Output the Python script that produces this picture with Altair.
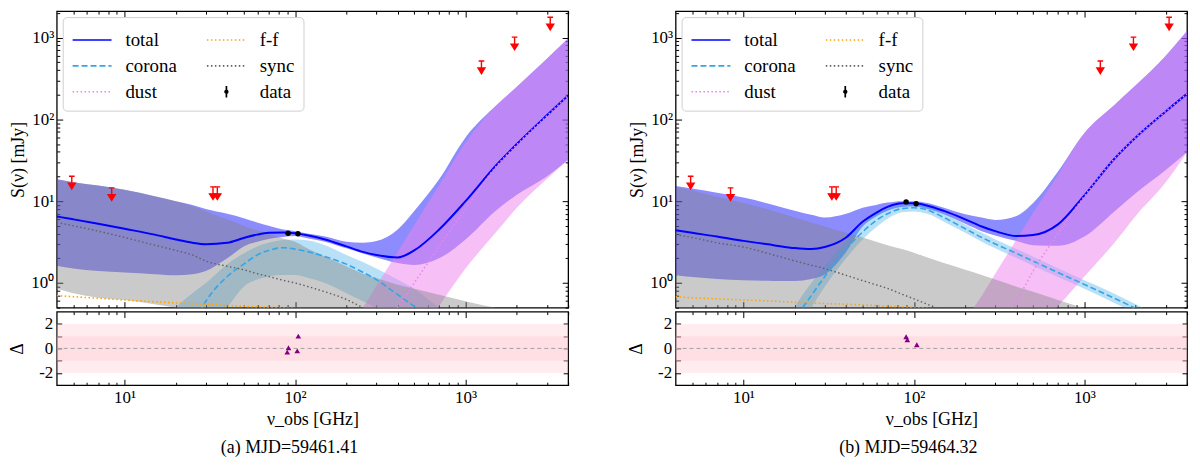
import altair as alt
import pandas as pd

SERIF = "Liberation Serif"
BLUE = "#0000ff"
CORONA = "#33a6e8"
DUST = "#ee82ee"
FF = "#ffa500"
SYNC = "#606060"

# frequency grid [GHz]
NU = [4, 5, 7, 10, 15, 20, 25, 30, 40, 50, 60, 70, 85, 100, 120, 150, 200, 250, 300, 400, 500, 700, 1000, 1500, 2000, 3000, 4000]

# %% panel (a) MJD=59461.41  [mJy]
A_TOTAL = [6.5, 6.0, 5.3, 4.6, 3.9, 3.4, 3.1, 2.98, 3.1, 3.55, 3.9, 4.1, 4.15, 4.05, 3.8, 3.4, 2.8, 2.4, 2.2, 2.05, 2.5, 4.5, 10, 27, 50, 112, 195]
A_TOT_HI = [18.5, 17.0, 15.5, 13.8, 11.5, 10.0, 9.0, 8.0, 7.0, 6.2, 5.5, 5.0, 4.5, 4.3, 4.0, 3.7, 3.2, 3.1, 3.25, 4.5, 7.6, 18.5, 60, 145, 250, 550, 970]
A_TOT_LO = [1.62, 1.5, 1.4, 1.34, 1.28, 1.24, 1.28, 1.4, 2.0, 2.8, 3.2, 3.45, 3.65, 3.75, 3.5, 3.2, 2.65, 2.3, 2.05, 1.75, 1.66, 2.0, 3.4, 7.6, 12, 20, 32]
A_COR = [None] * 5 + [0.15, 0.3, 0.6, 1.2, 1.7, 2.2, 2.5, 2.7, 2.6, 2.4, 2.1, 1.7, 1.35, 1.1, 0.72, 0.52, 0.3] + [None] * 5
A_COR_HI = [None] * 4 + [0.25, 0.5, 0.75, 1.0, 1.7, 2.3, 2.8, 3.1, 3.35, 3.4, 3.3, 2.9, 2.2, 1.8, 1.5, 1.1, 0.85, 0.5, 0.3] + [None] * 4
A_COR_LO = [None] * 4 + [0.025, 0.06, 0.15, 0.25, 0.5, 0.9, 1.1, 1.2, 1.25, 1.25, 1.15, 1.0, 0.75, 0.6, 0.5, 0.35, 0.25, 0.15, 0.08] + [None] * 4
A_DUST = [None] * 17 + [0.11, 0.2, 0.5, 1.0, 2.8, 8.0, 26, 49, 110, 195]
A_DUST_HI = [None] * 16 + [0.25, 0.5, 0.92, 2.4, 5.1, 15.6, 52, 145, 250, 550, 970]
A_DUST_LO = [None] * 16 + [0.01, 0.02, 0.035, 0.08, 0.17, 0.52, 1.5, 4.1, 8.3, 18.6, 32]
A_SYNC = [5.5, 5.0, 4.3, 3.6, 2.9, 2.5, 2.2, 1.85, 1.6, 1.45, 1.3, 1.2, 1.08, 1.0, 0.9, 0.78, 0.63, 0.5, 0.42] + [None] * 8
A_SYNC_HI = [18.5, 17.0, 15.5, 13.8, 11.5, 10.0, 8.7, 7.5, 6.0, 5.0, 4.4, 4.0, 3.5, 3.2, 2.6, 2.1, 1.6, 1.3, 1.15, 0.95, 0.85, 0.72, 0.6, 0.5, 0.45, 0.4, 0.36]
A_SYNC_LO = [0.85, 0.75, 0.66, 0.62, 0.55, 0.5, 0.47, 0.45, 0.42, 0.4, 0.38, 0.37, 0.35, 0.34, 0.32, 0.3, 0.28, 0.26, 0.25, 0.23, 0.22, 0.2, 0.18, 0.16, 0.15, 0.14, 0.13]
A_FF = [0.7, 0.68, 0.65, 0.62, 0.59, 0.57, 0.56, 0.55, 0.53, 0.52, 0.51, 0.505, 0.5, 0.49, 0.48] + [None] * 12
A_DATA_NU = [91, 104]
A_DATA_S = [4.05, 4.0]
A_DATA_ERR = [0.12, 0.12]
A_RES_NU = [90, 91.5, 103, 104.5]
A_RES = [-0.3, 0.05, -0.2, 1.0]

# %% panel (b) MJD=59464.32
B_TOTAL = [4.4, 4.1, 3.7, 3.27, 2.9, 2.67, 2.6, 2.75, 3.6, 5.6, 7.2, 8.5, 9.4, 9.4, 8.8, 7.6, 6.0, 4.9, 4.3, 3.75, 3.85, 5.2, 11.8, 33, 60, 125, 205]
B_TOT_HI = [15.3, 14.3, 12.7, 11.1, 9.0, 7.65, 6.8, 6.3, 7.0, 8.3, 9.0, 9.6, 10.0, 10.0, 9.5, 8.3, 6.9, 6.3, 5.9, 6.6, 9.5, 23, 68, 150, 260, 600, 1200]
B_TOT_LO = [1.24, 1.18, 1.12, 1.08, 1.06, 1.06, 1.12, 1.27, 2.4, 4.9, 6.5, 7.65, 8.5, 8.6, 8.0, 6.9, 5.3, 4.3, 3.8, 3.25, 2.9, 2.85, 3.7, 7.5, 12.5, 24, 40]
B_COR = [None] * 4 + [0.08, 0.35, 0.7, 1.2, 2.6, 4.2, 5.8, 7.0, 8.1, 8.3, 7.8, 6.3, 4.6, 3.6, 3.0, 2.3, 1.85, 1.34, 0.96, 0.65, 0.49, 0.33, 0.25]
B_COR_HI = [None] * 4 + [0.12, 0.5, 1.0, 1.6, 3.3, 5.2, 7.0, 8.1, 9.0, 9.2, 8.7, 7.1, 5.2, 4.1, 3.4, 2.6, 2.1, 1.51, 1.08, 0.74, 0.55, 0.37, 0.28]
B_COR_LO = [None] * 4 + [0.05, 0.24, 0.5, 0.9, 2.0, 3.4, 4.8, 6.1, 7.3, 7.5, 7.0, 5.6, 4.1, 3.2, 2.65, 2.02, 1.63, 1.18, 0.85, 0.57, 0.43, 0.29, 0.22]
B_DUST = [None] * 17 + [0.1, 0.25, 0.6, 1.4, 4.0, 11.5, 33, 60, 125, 205]
B_DUST_HI = [None] * 15 + [0.13, 0.35, 0.7, 1.3, 3.4, 7.2, 21, 68, 150, 260, 600, 1200]
B_DUST_LO = [None] * 15 + [0.01, 0.02, 0.04, 0.07, 0.13, 0.25, 0.52, 1.2, 3.1, 6.6, 17, 40]
B_SYNC = [3.9, 3.6, 3.1, 2.75, 2.2, 1.86, 1.65, 1.5, 1.24, 1.07, 0.95, 0.86, 0.73, 0.64, 0.55, 0.46, 0.38] + [None] * 10
B_SYNC_HI = [15.0, 13.5, 11.3, 9.5, 7.6, 6.3, 5.5, 4.9, 4.1, 3.6, 3.2, 2.9, 2.6, 2.35, 2.05, 1.75, 1.45, 1.25, 1.1, 0.9, 0.78, 0.62, 0.49, 0.4, 0.35, 0.28, 0.24]
B_SYNC_LO = [0.45, 0.42, 0.4, 0.38, 0.36, 0.34, 0.33, 0.32, 0.3, 0.29, 0.28, 0.27, 0.26, 0.25, 0.24, 0.23, 0.21, 0.2, 0.19, 0.17, 0.16, 0.15, 0.13, 0.12, 0.11, 0.1, 0.09]
B_FF = [0.68, 0.66, 0.64, 0.62, 0.6, 0.58, 0.57, 0.56, 0.55, 0.54, 0.53, 0.52, 0.51, 0.5, 0.49, 0.48] + [None] * 11
B_DATA_NU = [90, 103]
B_DATA_S = [9.8, 9.3]
B_DATA_ERR = [0.2, 0.2]
B_RES_NU = [90, 91.5, 104]
B_RES = [0.95, 0.7, 0.3]

# upper limits (same in both epochs)
UL_NU = [4.9, 8.4, 33, 35, 1240, 1940, 3140]
UL_S = [20, 14.4, 14.8, 14.8, 512, 1000, 1750]

SIGMA = [2, 1]

# legend fills column by column
LEG_NAMES = ["total", "corona", "dust", "f-f", "sync", "data"]
LEG_COLORS = [BLUE, CORONA, DUST, FF, SYNC, "black"]
LEG_DASH = [[1, 0], [6, 3], [1.5, 2.5], [1.5, 2.5], [1.5, 2.5], [1, 0]]
LINE = "M-1,0H2"
DOT = "M0.5,-0.45V0.45M0.4,0A0.1,0.1 0 1,0 0.6,0A0.1,0.1 0 1,0 0.4,0"
LEG_SHAPES = [LINE, LINE, LINE, LINE, LINE, DOT]
ARROW = "M-0.45,-1H0.45M0,-1V0.2M-0.55,0.1L0,1L0.55,0.1Z"

W, H, HR = 514, 298, 74
XS = alt.Scale(type="log", domain=[4, 4000], nice=False)
YS = alt.Scale(type="log", domain=[0.5, 2100], nice=False)
RS = alt.Scale(domain=[-3, 3], nice=False)

MAJ_X = [10, 100, 1000]
MIN_X = [5, 6, 7, 8, 9, 20, 30, 40, 50, 60, 70, 80, 90, 200, 300, 400, 500, 600, 700, 800, 900, 2000, 3000, 4000]
MAJ_Y = [1, 10, 100, 1000]
MIN_Y = [0.5, 0.6, 0.7, 0.8, 0.9, 2, 3, 4, 5, 6, 7, 8, 9, 20, 30, 40, 50, 60, 70, 80, 90,
         200, 300, 400, 500, 600, 700, 800, 900, 2000]
RES_TICKS = [-2, -1, 0, 1, 2]
SUP = "datum.value == 1 ? '10⁰' : datum.value == 10 ? '10¹' : datum.value == 100 ? '10²' : '10³'"
TXT = dict(labelFont=SERIF, titleFont=SERIF, labelFontSize=17, titleFontSize=18,
           labelColor="black", titleColor="black", titleFontWeight="normal")


def ticks(orient, offset, values, major=None):
    size = 5
    if major is not None:
        size = {"condition": {"test": f"indexof({major}, datum.value) >= 0", "value": 6}, "value": 3}
    return alt.Axis(orient=orient, offset=offset, values=values, labels=False, domain=False,
                    grid=False, title=None, tickColor="black", tickWidth=1, tickSize=size)


def band(df, lo, hi, color, opacity, xax=None, yax=None):
    return alt.Chart(df).mark_area(color=color, opacity=opacity, interpolate="monotone", clip=True).encode(
        x=alt.X("nu:Q", scale=XS, axis=xax),
        y=alt.Y(f"{lo}:Q", scale=YS, axis=yax),
        y2=f"{hi}:Q")


def line(df, col, color, width, dash=None):
    kw = dict(color=color, strokeWidth=width, interpolate="monotone", clip=True)
    if dash:
        kw["strokeDash"] = dash
    return alt.Chart(df).mark_line(**kw).encode(
        x=alt.X("nu:Q", scale=XS, axis=None), y=alt.Y(f"{col}:Q", scale=YS, axis=None))


def panel(c, data_nu, data_s, data_err, res_nu, res, caption):
    df = pd.DataFrame({"nu": NU, **c})
    pts = pd.DataFrame({"nu": data_nu, "s": data_s,
                        "lo": [s - e for s, e in zip(data_s, data_err)],
                        "hi": [s + e for s, e in zip(data_s, data_err)]})
    ul = pd.DataFrame({"nu": UL_NU, "s": UL_S})
    leg = pd.DataFrame({"series": LEG_NAMES})

    x_bot = ticks("top", -H, MAJ_X + MIN_X, MAJ_X)
    x_top = ticks("bottom", -H, MAJ_X + MIN_X, MAJ_X)
    y_left = ticks("right", -W, MAJ_Y + MIN_Y, MAJ_Y)
    y_right = ticks("left", -W, MAJ_Y + MIN_Y, MAJ_Y)
    y_lab = alt.Axis(orient="left", values=MAJ_Y, ticks=False, domain=False, grid=False,
                     labelExpr=SUP, labelPadding=3, labelFlush=False, title="S(ν) [mJy]",
                     titlePadding=3, **TXT)

    top = alt.layer(
        band(df, "tot_lo", "tot_hi", BLUE, 0.45, x_bot, y_lab),
        band(df, "cor_lo", "cor_hi", CORONA, 0.35, x_top, y_left),
        band(df, "dust_lo", "dust_hi", DUST, 0.5, None, y_right),
        band(df, "sync_lo", "sync_hi", "#808080", 0.42),
        line(df, "cor", CORONA, 1.6, [6, 3]),
        line(df, "sync", SYNC, 1.4, [1.5, 2.5]),
        line(df, "ff", FF, 1.6, [1.5, 2.5]),
        line(df, "tot", BLUE, 2),
        line(df, "dust", DUST, 1.6, [1.5, 2.5]),
        alt.Chart(pts).mark_rule(color="black", strokeWidth=1.2).encode(
            x=alt.X("nu:Q", scale=XS, axis=None), y=alt.Y("lo:Q", scale=YS, axis=None), y2="hi:Q"),
        alt.Chart(pts).mark_point(filled=True, color="black", size=30, opacity=1).encode(
            x=alt.X("nu:Q", scale=XS, axis=None), y=alt.Y("s:Q", scale=YS, axis=None)),
        alt.Chart(ul).mark_point(shape=ARROW, filled=True, fill="red", stroke="red", strokeWidth=1.4,
                                 size=160, yOffset=6, opacity=1).encode(
            x=alt.X("nu:Q", scale=XS, axis=None), y=alt.Y("s:Q", scale=YS, axis=None)),
        alt.Chart(leg).mark_point(opacity=0, filled=False).encode(
            color=alt.Color("series:N", scale=alt.Scale(domain=LEG_NAMES, range=LEG_COLORS), legend=alt.Legend(title=None)),
            shape=alt.Shape("series:N", scale=alt.Scale(domain=LEG_NAMES, range=LEG_SHAPES), legend=alt.Legend(title=None)),
            strokeDash=alt.StrokeDash("series:N", scale=alt.Scale(domain=LEG_NAMES, range=LEG_DASH), legend=alt.Legend(title=None))),
    ).resolve_axis(x="independent", y="independent").properties(width=W, height=H)

    sig = pd.DataFrame({"x0": [NU[0]] * len(SIGMA), "x1": [NU[-1]] * len(SIGMA),
                        "lo": [-s for s in SIGMA], "hi": SIGMA})
    zero = pd.DataFrame({"nu": NU, "zero": [0] * len(NU)})
    rdf = pd.DataFrame({"nu": res_nu, "d": res})

    rx_lab = alt.Axis(orient="bottom", values=MAJ_X, ticks=False, domain=False, grid=False,
                      labelExpr=SUP, labelPadding=4, labelFlush=False, title="ν_obs [GHz]",
                      titlePadding=5, **TXT)
    ry_lab = alt.Axis(orient="left", values=[-2, 0, 2], ticks=False, domain=False, grid=False,
                      labelExpr="datum.value < 0 ? '-' + (-datum.value) : '' + datum.value",
                      labelPadding=4, title="Δ", titlePadding=12, **TXT)
    resid = alt.layer(
        alt.Chart(sig).mark_rect(color="pink", opacity=0.3).encode(
            x=alt.X("x0:Q", scale=XS, axis=rx_lab), x2="x1:Q",
            y=alt.Y("lo:Q", scale=RS, axis=ry_lab), y2="hi:Q"),
        alt.Chart(zero).mark_line(color="#a0a0a0", strokeDash=[4, 3], strokeWidth=1).encode(
            x=alt.X("nu:Q", scale=XS, axis=ticks("top", -HR, MAJ_X + MIN_X, MAJ_X)),
            y=alt.Y("zero:Q", scale=RS, axis=ticks("right", -W, RES_TICKS))),
        alt.Chart(rdf).mark_point(shape="triangle-up", filled=True, color="purple", size=32, opacity=1).encode(
            x=alt.X("nu:Q", scale=XS, axis=ticks("bottom", -HR, MAJ_X + MIN_X, MAJ_X)),
            y=alt.Y("d:Q", scale=RS, axis=ticks("left", -W, RES_TICKS))),
    ).resolve_axis(x="independent", y="independent").properties(width=W, height=HR)

    return alt.vconcat(top, resid, spacing=0).properties(
        title=alt.TitleParams(caption, orient="bottom", anchor="middle", offset=10,
                              font=SERIF, fontSize=18, fontWeight="normal", color="black")
    ).resolve_scale(color="independent", shape="independent", strokeDash="independent")


def curves(tot, hi, lo, cor, chi, clo, dust, dhi, dlo, sync, shi, slo, ff):
    return {"tot": tot, "tot_hi": hi, "tot_lo": lo, "cor": cor, "cor_hi": chi, "cor_lo": clo,
            "dust": dust, "dust_hi": dhi, "dust_lo": dlo, "sync": sync, "sync_hi": shi,
            "sync_lo": slo, "ff": ff}


pa = panel(curves(A_TOTAL, A_TOT_HI, A_TOT_LO, A_COR, A_COR_HI, A_COR_LO, A_DUST, A_DUST_HI, A_DUST_LO,
                  A_SYNC, A_SYNC_HI, A_SYNC_LO, A_FF),
           A_DATA_NU, A_DATA_S, A_DATA_ERR, A_RES_NU, A_RES, "(a) MJD=59461.41")
pb = panel(curves(B_TOTAL, B_TOT_HI, B_TOT_LO, B_COR, B_COR_HI, B_COR_LO, B_DUST, B_DUST_HI, B_DUST_LO,
                  B_SYNC, B_SYNC_HI, B_SYNC_LO, B_FF),
           B_DATA_NU, B_DATA_S, B_DATA_ERR, B_RES_NU, B_RES, "(b) MJD=59464.32")

chart = alt.hconcat(pa, pb, spacing=56).resolve_scale(
    color="independent", shape="independent", strokeDash="independent"
).properties(
    padding={"left": 0, "right": 2, "top": 0, "bottom": 2}
).configure_view(
    stroke="black", strokeWidth=1.3
).configure_axis(
    **TXT
).configure_legend(
    orient="top-left", offset=6, columns=2, padding=9, fillColor="white", strokeColor="#cfcfcf",
    cornerRadius=4, labelFont=SERIF, labelFontSize=19, labelColor="black", symbolSize=680,
    symbolStrokeWidth=1.7, symbolOpacity=1, labelOffset=26, columnPadding=26, rowPadding=2
)

chart.save("out.html", embed_options={"renderer": "svg", "actions": False})
